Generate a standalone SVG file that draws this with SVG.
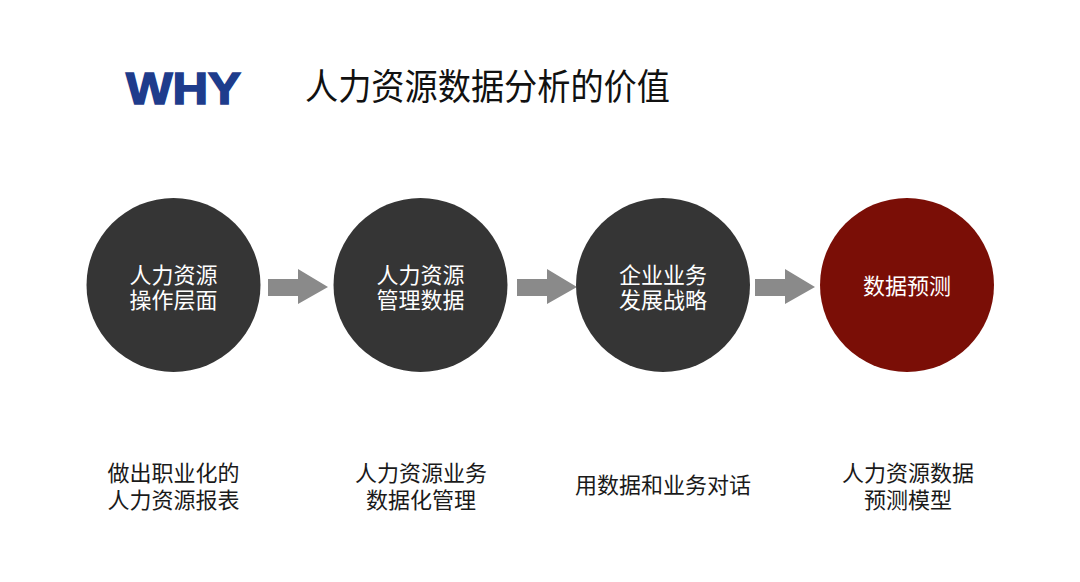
<svg xmlns="http://www.w3.org/2000/svg" width="1080" height="582" viewBox="0 0 1080 582">
<style>
.cjk{font-family:"Liberation Sans","Noto Sans CJK SC",sans-serif;text-anchor:middle}
.in{fill:#ffffff;font-size:22px}
.out{fill:#1a1a1a;font-size:22px}
.dark{fill:#353535}
.red{fill:#7a0e06}
.arr{fill:#8a8a8a}
</style>
<rect width="1080" height="582" fill="#ffffff"/>
<g id="title">
<text x="126" y="104" font-family="Liberation Sans,Arial,sans-serif" font-weight="bold" font-size="45" fill="#1e3c8c" stroke="#1e3c8c" stroke-width="1.6" textLength="115" lengthAdjust="spacingAndGlyphs">WHY</text>
<text x="305" y="100" font-family="Liberation Sans,Noto Sans CJK SC,sans-serif" font-size="36" fill="#111111" textLength="365" lengthAdjust="spacingAndGlyphs">人力资源数据分析的价值</text>
</g>
<g id="connectors">
<polygon class="arr" points="268,279 298,279 298,269 328,287 298,304 298,296 268,296"/>
<polygon class="arr" points="517,279 547,279 547,269 577,287 547,304 547,296 517,296"/>
<polygon class="arr" points="755,279 785,279 785,269 815,287 785,304 785,296 755,296"/>
</g>
<g id="node1">
<circle class="dark" cx="173.5" cy="285" r="87"/>
<text class="cjk in" x="173.5" y="283">人力资源</text>
<text class="cjk in" x="173.5" y="308">操作层面</text>
</g>
<g id="node2">
<circle class="dark" cx="420.5" cy="285" r="87"/>
<text class="cjk in" x="420.5" y="283">人力资源</text>
<text class="cjk in" x="420.5" y="308">管理数据</text>
</g>
<g id="node3">
<circle class="dark" cx="663" cy="285" r="87"/>
<text class="cjk in" x="663" y="283">企业业务</text>
<text class="cjk in" x="663" y="308">发展战略</text>
</g>
<g id="node4">
<circle class="red" cx="907" cy="285" r="87"/>
<text class="cjk in" x="907" y="294">数据预测</text>
</g>
<g id="label1">
<text class="cjk out" x="173.5" y="481">做出职业化的</text>
<text class="cjk out" x="173.5" y="508">人力资源报表</text>
</g>
<g id="label2">
<text class="cjk out" x="421" y="481">人力资源业务</text>
<text class="cjk out" x="421" y="508">数据化管理</text>
</g>
<g id="label3">
<text class="cjk out" x="663" y="493">用数据和业务对话</text>
</g>
<g id="label4">
<text class="cjk out" x="908" y="481">人力资源数据</text>
<text class="cjk out" x="908" y="508">预测模型</text>
</g>
</svg>
